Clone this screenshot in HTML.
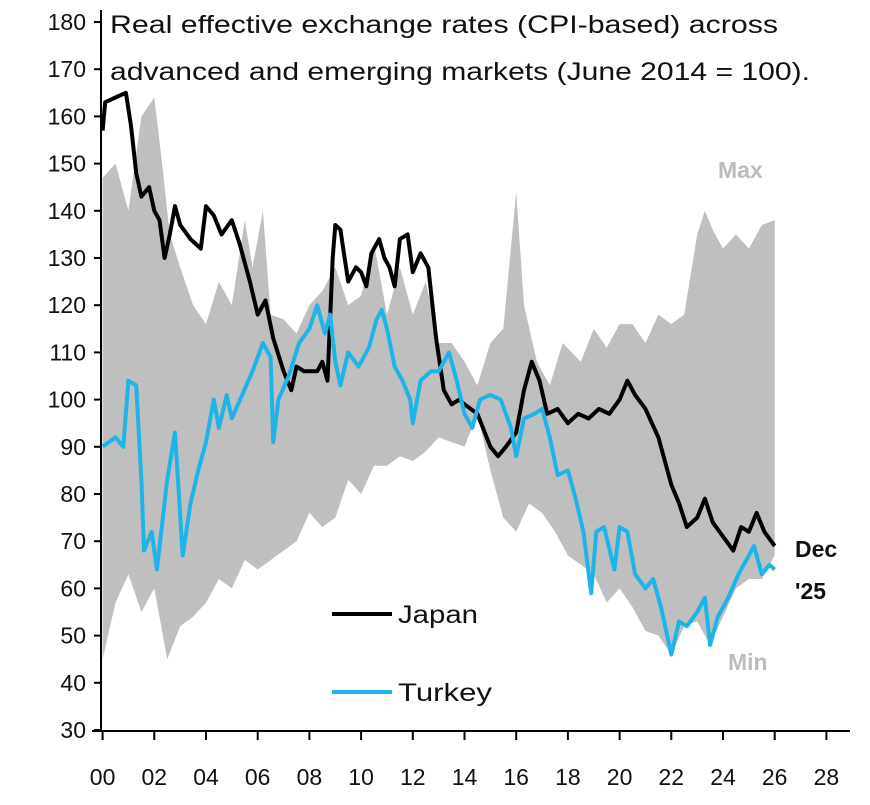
<!DOCTYPE html><html><head><style>body{margin:0;background:#fff}svg{display:block;font-family:"Liberation Sans",sans-serif}</style></head><body>
<svg id="s" width="870" height="805" viewBox="0 0 870 805"></svg>
<script>
const X=y=>102.6+25.85*(y-2000),Y=v=>730-4.72*(v-30);
const P=a=>{let r=[];for(let i=0;i<a.length;i+=2)r.push(X(a[i]).toFixed(1)+","+Y(a[i+1]).toFixed(1));return r;};
const up=[2000,147,2000.5,150,2001,140,2001.5,160,2002,164,2002.3,150,2002.6,135,2003,128,2003.5,120,2004,116,2004.5,125,2005,120,2005.5,138,2005.8,128,2006.2,140,2006.5,118,2007,117,2007.5,114,2008,120,2008.5,123,2009,128,2009.5,120,2010,122,2010.5,133,2011,118,2011.5,128,2012,118,2012.5,125,2013,112,2013.5,112,2014,108,2014.5,103,2015,112,2015.5,115,2016,144,2016.3,120,2016.8,108,2017.3,103,2017.8,112,2018.5,108,2019,115,2019.5,111,2020,116,2020.5,116,2021,112,2021.5,118,2022,116,2022.5,118,2023,135,2023.3,140,2023.6,136,2024,132,2024.5,135,2025,132,2025.5,137,2026,138];
const lo=[2000,45,2000.5,57,2001,63,2001.5,55,2002,60,2002.5,45,2003,52,2003.5,54,2004,57,2004.5,62,2005,60,2005.5,66,2006,64,2006.5,66,2007,68,2007.5,70,2008,76,2008.5,73,2009,75,2009.5,83,2010,80,2010.5,86,2011,86,2011.5,88,2012,87,2012.5,89,2013,92,2013.5,91,2014,90,2014.5,97,2015,85,2015.5,75,2016,72,2016.5,78,2017,76,2017.5,72,2018,67,2018.5,65,2019,63,2019.5,57,2020,60,2020.5,56,2021,51,2021.5,50,2022,46,2022.5,52,2023,53,2023.5,48,2024,54,2024.5,60,2025,62,2025.5,62,2026,67];
const jp=[2000,157,2000.1,163,2000.5,164,2000.9,165,2001.1,158,2001.3,148,2001.5,143,2001.8,145,2002,140,2002.2,138,2002.4,130,2002.6,135,2002.8,141,2003,137,2003.4,134,2003.8,132,2004,141,2004.3,139,2004.6,135,2005,138,2005.3,133,2005.7,125,2006,118,2006.3,121,2006.6,113,2007,106,2007.3,102,2007.5,107,2007.8,106,2008.3,106,2008.5,108,2008.7,104,2008.9,130,2009,137,2009.2,136,2009.5,125,2009.8,128,2010,127,2010.2,124,2010.4,131,2010.7,134,2010.9,130,2011.1,128,2011.3,124,2011.5,134,2011.8,135,2012,127,2012.3,131,2012.6,128,2012.9,113,2013.2,102,2013.5,99,2013.8,100,2014,99,2014.5,97,2015,90,2015.3,88,2015.6,90,2016,93,2016.3,102,2016.6,108,2016.9,104,2017.2,97,2017.6,98,2018,95,2018.4,97,2018.8,96,2019.2,98,2019.6,97,2020,100,2020.3,104,2020.6,101,2021,98,2021.5,92,2022,82,2022.3,78,2022.6,73,2023,75,2023.3,79,2023.6,74,2024,71,2024.4,68,2024.7,73,2025,72,2025.3,76,2025.6,72,2026,69];
const tk=[2000,90,2000.5,92,2000.8,90,2001,104,2001.3,103,2001.5,83,2001.6,68,2001.9,72,2002.1,64,2002.5,83,2002.8,93,2003.1,67,2003.4,78,2003.7,85,2004,91,2004.3,100,2004.5,94,2004.8,101,2005,96,2005.4,101,2005.8,106,2006.2,112,2006.5,109,2006.6,91,2006.8,100,2007.2,105,2007.6,112,2008,115,2008.3,120,2008.6,114,2008.8,118,2009,108,2009.2,103,2009.5,110,2009.9,107,2010.3,111,2010.6,117,2010.8,119,2011,115,2011.3,107,2011.6,104,2011.9,100,2012,95,2012.3,104,2012.7,106,2013,106,2013.4,110,2013.7,104,2014,97,2014.3,94,2014.6,100,2015,101,2015.4,100,2015.8,94,2016,88,2016.3,96,2016.7,97,2017,98,2017.3,92,2017.6,84,2018,85,2018.3,79,2018.6,72,2018.9,59,2019.1,72,2019.4,73,2019.8,64,2020,73,2020.3,72,2020.6,63,2021,60,2021.3,62,2021.6,56,2022,46,2022.3,53,2022.6,52,2023,55,2023.3,58,2023.5,48,2023.8,54,2024.2,58,2024.6,63,2025,67,2025.2,69,2025.5,63,2025.8,65,2026,64];
let h='';
const lr=[];for(let i=lo.length-2;i>=0;i-=2)lr.push(lo[i],lo[i+1]);
h+=`<polygon fill="#bfbfbf" points="${P(up).concat(P(lr)).join(' ')}"/>`;
h+=`<polyline fill="none" stroke="#000" stroke-width="4" stroke-linejoin="round" points="${P(jp).join(' ')}"/>`;
h+=`<polyline fill="none" stroke="#1fb4e8" stroke-width="4" stroke-linejoin="round" points="${P(tk).join(' ')}"/>`;
h+=`<line x1="101" y1="10" x2="101" y2="731" stroke="#000" stroke-width="2"/><line x1="92" y1="731" x2="850" y2="731" stroke="#000" stroke-width="2"/>`;
for(let v=30;v<=180;v+=10){let y=Y(v);h+=`<line x1="94" y1="${y}" x2="101" y2="${y}" stroke="#000" stroke-width="2"/><text x="86" y="${y+8}" font-size="23" text-anchor="end" fill="#111">${v}</text>`;}
for(let i=0;i<=14;i++){let x=X(2000+2*i);h+=`<line x1="${x}" y1="731" x2="${x}" y2="740" stroke="#000" stroke-width="2"/><text x="${x}" y="785" font-size="23" text-anchor="middle" fill="#111">${String(2*i).padStart(2,'0')}</text>`;}
h+=`<text x="110" y="33" font-size="25" fill="#111" textLength="668" lengthAdjust="spacingAndGlyphs">Real effective exchange rates (CPI-based) across</text><text x="110" y="80" font-size="25" fill="#111" textLength="700" lengthAdjust="spacingAndGlyphs">advanced and emerging markets (June 2014 = 100).</text>`;
h+=`<text x="718" y="178" font-size="23" font-weight="bold" fill="#bbb">Max</text><text x="728" y="670" font-size="23" font-weight="bold" fill="#bbb">Min</text>`;
h+=`<text x="795" y="557" font-size="23" font-weight="bold" fill="#111">Dec</text><text x="795" y="599" font-size="23" font-weight="bold" fill="#111">'25</text>`;
h+=`<line x1="332" y1="614" x2="392" y2="614" stroke="#000" stroke-width="4"/><text x="398" y="623" font-size="25" fill="#111" textLength="80" lengthAdjust="spacingAndGlyphs">Japan</text>`;
h+=`<line x1="332" y1="692" x2="392" y2="692" stroke="#1fb4e8" stroke-width="4"/><text x="398" y="701" font-size="25" fill="#111" textLength="94" lengthAdjust="spacingAndGlyphs">Turkey</text>`;
document.getElementById('s').innerHTML=h;
</script></body></html>
